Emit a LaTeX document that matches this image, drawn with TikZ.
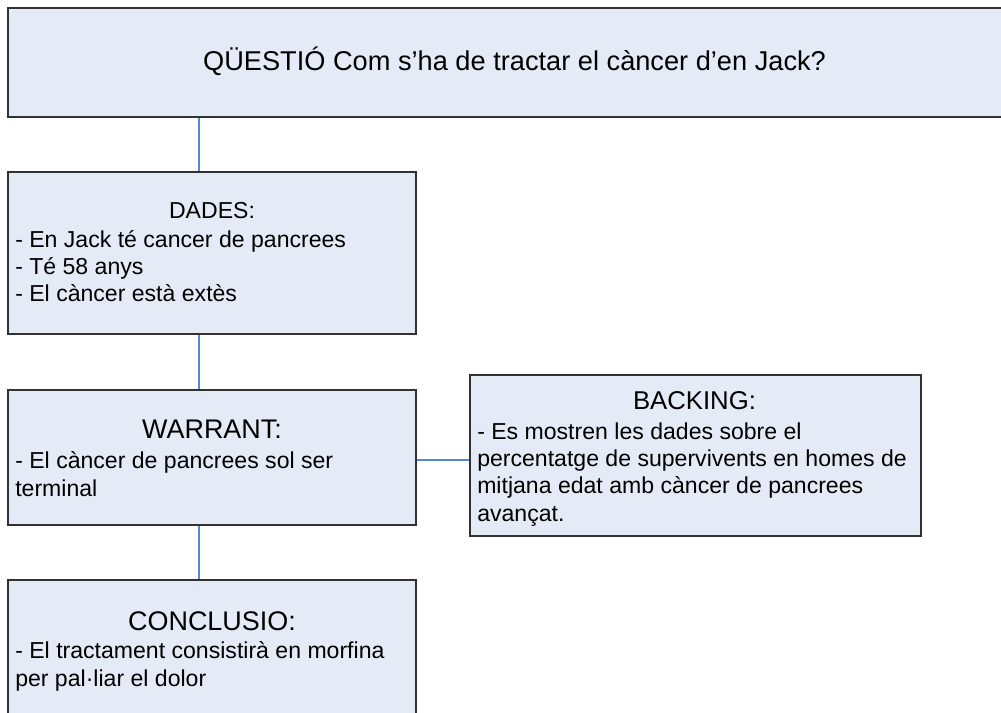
\documentclass[tikz,border=0pt]{standalone}
\usepackage{fontspec}
\setmainfont{Liberation Sans}
\usetikzlibrary{fit}
\definecolor{boxfill}{RGB}{229,235,246}
\definecolor{boxline}{RGB}{50,50,50}
\definecolor{linkblue}{RGB}{86,136,210}

\begin{document}
\begin{tikzpicture}[x=0.75pt, y=-0.75pt,
  box/.style={draw=boxline, fill=boxfill, line width=1pt, inner sep=0pt},
  head/.style={font=\fontsize{20.2}{24}\selectfont, anchor=base, inner sep=0pt},
  body/.style={font=\fontsize{17.3}{20.3}\selectfont, align=left, anchor=base west, inner sep=0pt},
  link/.style={draw=linkblue, line width=0.8pt}]
\useasboundingbox (0,0) rectangle (1001,713);
\clip (0,0) rectangle (1001,713);
% Draw boxes
\node[box, fit={(8,8) (1021,117)}] (question) {};
\node[box, fit={(8,172) (416,334)}] (dades) {};
\node[box, fit={(8,390) (416,525)}] (warrant) {};
\node[box, fit={(470,375) (921,536)}] (backing) {};
\node[box, fit={(8,580) (416,780)}] (conclusio) {};
% Draw connectors
\draw[link] (question.south -| 199,0) -- (dades.north -| 199,0);
\draw[link] (dades.south -| 199,0) -- (warrant.north -| 199,0);
\draw[link] (warrant.south -| 199,0) -- (conclusio.north -| 199,0);
\draw[link] (warrant.east |- 0,460) -- (backing.west |- 0,460);
% Draw texts (body nodes sit on their last baseline)
\node[head, font=\fontsize{20.4}{24}\selectfont] (question-text) at (514.5,71) {QÜESTIÓ Com s’ha de tractar el càncer d’en Jack?};
\node[head, font=\fontsize{17.3}{20.3}\selectfont] (dades-head) at (212,219) {DADES:};
\node[body] (dades-body) at (15,302) {- En Jack té cancer de pancrees\\- Té 58 anys\\- El càncer està extès};
\node[head] (warrant-head) at (212,438) {WARRANT:};
\node[body] (warrant-body) at (15,496) {- El càncer de pancrees sol ser\\terminal};
\node[head, font=\fontsize{19.3}{23}\selectfont] (backing-head) at (694.5,409) {BACKING:};
\node[body] (backing-body) at (477,521) {- Es mostren les dades sobre el\\percentatge de supervivents en homes de\\mitjana edat amb càncer de pancrees\\avançat.};
\node[head] (conclusio-head) at (212,630) {CONCLUSIO:};
\node[body] (conclusio-body) at (15,686) {- El tractament consistirà en morfina\\per pal·liar el dolor};
\end{tikzpicture}
\end{document}
